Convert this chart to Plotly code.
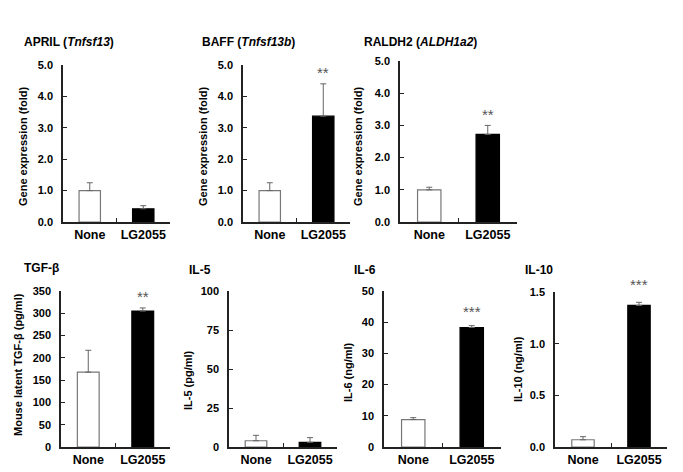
import plotly.graph_objects as go

# page body has a default 8px margin; compensate so the picture lands at the reference position
OFF = 8
W, H = 683 - OFF, 472 - OFF

groups = ["None", "LG2055"]

# Values (mean) and upper error lengths
april_vals = [1.0, 0.42]
april_err = [0.25, 0.10]
baff_vals = [1.0, 3.37]
baff_err = [0.25, 1.03]
raldh2_vals = [1.0, 2.72]
raldh2_err = [0.08, 0.28]
tgfb_vals = [168, 305]
tgfb_err = [49, 7]
il5_vals = [4.0, 3.0]
il5_err = [3.5, 3.0]
il6_vals = [8.8, 38.3]
il6_err = [0.6, 0.6]
il10_vals = [0.07, 1.37]
il10_err = [0.03, 0.03]

panel_titles = ["APRIL (<i>Tnfsf13</i>)", "BAFF (<i>Tnfsf13b</i>)", "RALDH2 (<i>ALDH1a2</i>)",
                "TGF-β", "IL-5", "IL-6", "IL-10"]
y_titles = ["Gene expression (fold)", "Gene expression (fold)", "Gene expression (fold)",
            "Mouse latent TGF-β (pg/ml)", "IL-5 (pg/ml)", "IL-6 (ng/ml)", "IL-10 (ng/ml)"]
sig_marks = ["", "**", "**", "**", "", "***", "***"]

series = [(april_vals, april_err), (baff_vals, baff_err), (raldh2_vals, raldh2_err),
          (tgfb_vals, tgfb_err), (il5_vals, il5_err), (il6_vals, il6_err), (il10_vals, il10_err)]

# layout geometry in reference pixels: (x0, x1, ytop, ybottom)
boxes = [(63, 170, 65, 222), (243, 350, 65, 222), (400, 517, 61, 222),
         (61, 170, 291, 447), (229, 337, 291, 447), (384, 501, 291, 447), (555, 667, 292, 447)]
yranges = [(0, 5), (0, 5), (0, 5), (0, 350), (0, 100), (0, 50), (0, 1.5)]
dticks = [1, 1, 1, 50, 25, 10, 0.5]
tfmts = [".1f", ".1f", ".1f", "d", "d", "d", ".1f"]
title_pos = [(22, 42), (200, 42), (362, 42), (22, 268), (187, 270), (352, 270), (523, 270)]
ytitle_pos = [(23, 146), (203, 146), (358, 146), (18, 365), (188, 380), (348, 372), (518, 369)]
sig_offsets = [0, 0.35, 0.35, 25, 0, 4.5, 0.17]

def px_x(p):
    return (p - OFF) / W

def px_y(p):
    return 1 - (p - OFF) / H

fig = go.Figure()
annotations = []
font_family = "Liberation Sans, Arial, sans-serif"

for i, ((vals, errs), box) in enumerate(zip(series, boxes)):
    n = "" if i == 0 else str(i + 1)
    xa, ya = "x" + n, "y" + n
    fig.add_trace(go.Bar(
        x=groups, y=vals, xaxis=xa, yaxis=ya, width=0.4,
        marker=dict(color=["white", "black"], line=dict(color=["#777777", "black"], width=1.2)),
        error_y=dict(type="data", array=errs, arrayminus=[0, 0], symmetric=False,
                     color="#666666", thickness=1, width=3),
        showlegend=False, hoverinfo="skip",
    ))
    x0, x1, yt, yb = box
    xkey = "xaxis" + n
    ykey = "yaxis" + n
    fig.layout[xkey] = dict(
        domain=[px_x(x0), px_x(x1)], anchor=ya, type="category", automargin=False,
        range=[-0.5, 1.5], showline=True, linecolor="#222222", linewidth=1.5,
        ticks="inside", tickson="boundaries", ticklen=4, tickcolor="#222222", tickwidth=1.2,
        tickangle=0,
        tickfont=dict(family=font_family, size=12.5, color="black", weight="bold"),
        showgrid=False, zeroline=False, fixedrange=True,
    )
    fig.layout[ykey] = dict(
        domain=[px_y(yb), px_y(yt)], anchor=xa, range=list(yranges[i]), automargin=False,
        dtick=dticks[i], tick0=0, tickformat=tfmts[i],
        showline=True, linecolor="#222222", linewidth=1.5,
        ticks="inside", ticklen=4, tickcolor="#222222", tickwidth=1.2,
        tickfont=dict(family=font_family, size=11, color="black", weight="bold"),
        ticklabelstandoff=6,
        showgrid=False, zeroline=False, fixedrange=True,
    )
    tx, ty = title_pos[i]
    annotations.append(dict(
        text="<b>" + panel_titles[i] + "</b>", x=px_x(tx), y=px_y(ty), xref="paper", yref="paper",
        xanchor="left", yanchor="middle", showarrow=False,
        font=dict(family=font_family, size=12, color="black"),
    ))
    yx, yy = ytitle_pos[i]
    annotations.append(dict(
        text="<b>" + y_titles[i] + "</b>", x=px_x(yx), y=px_y(yy), xref="paper", yref="paper",
        xanchor="center", yanchor="middle", showarrow=False, textangle=-90,
        font=dict(family=font_family, size=11, color="black"),
    ))
    if sig_marks[i]:
        # place via the axis's own scale: fraction of the y range mapped into the domain
        yv = vals[1] + errs[1] + sig_offsets[i]
        lo, hi = yranges[i]
        frac = (yv - lo) / (hi - lo)
        d0, d1 = px_y(yb), px_y(yt)
        annotations.append(dict(
            text=sig_marks[i], x=groups[1], y=d0 + frac * (d1 - d0),
            xref=xa, yref="paper", xanchor="center", yanchor="middle", showarrow=False,
            font=dict(family=font_family, size=15, color="#555555"),
        ))

fig.update_layout(
    width=W, height=H, margin=dict(l=0, r=0, t=0, b=0),
    paper_bgcolor="white", plot_bgcolor="white",
    annotations=annotations, bargap=0.6,
)

fig.write_html("out.html")
